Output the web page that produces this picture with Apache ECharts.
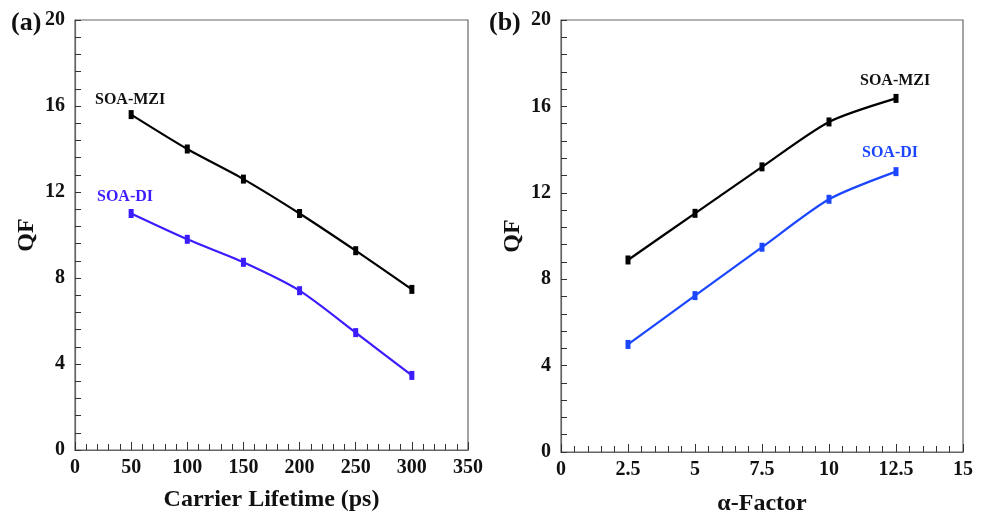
<!DOCTYPE html>
<html><head><meta charset="utf-8">
<script src="https://cdn.jsdelivr.net/npm/echarts@6/dist/echarts.min.js"></script>
<style>html,body{margin:0;padding:0;background:#fff}#c{width:987px;height:516px}</style>
</head><body><div id="c"></div>
<script>
const lifetimeX = [50, 100, 150, 200, 250, 300];
const mziA = [15.6, 14.0, 12.6, 11.0, 9.27, 7.47];
const diA = [11.0, 9.8, 8.73, 7.41, 5.46, 3.47];
const alphaX = [2.5, 5, 7.5, 10, 12.5];
const mziB = [8.89, 11.05, 13.2, 15.28, 16.37];
const diB = [4.98, 7.24, 9.48, 11.7, 12.98];

const font = '"Liberation Serif", "Times New Roman", serif';
const frame = '#666';
const pair = (xs, ys) => xs.map((x, i) => [x, ys[i]]);

function xAx(idx, max, interval, name, gap) {
  return {
    type: 'value', gridIndex: idx, min: 0, max: max, interval: interval,
    name: name, nameLocation: 'middle', nameGap: gap,
    nameTextStyle: {fontFamily: font, fontWeight: 'bold', fontSize: 24, color: '#111'},
    axisLine: {lineStyle: {color: frame, width: 1.2}},
    axisTick: {inside: true, length: 8, lineStyle: {color: '#333'}},
    minorTick: {show: true, splitNumber: 5, length: 6, lineStyle: {color: '#333'}},
    axisLabel: {fontFamily: font, fontWeight: 'bold', fontSize: 20, color: '#111', margin: 8},
    splitLine: {show: false}
  };
}
function yAx(idx) {
  return {
    type: 'value', gridIndex: idx, min: 0, max: 20, interval: 4,
    name: 'QF', nameLocation: 'middle', nameGap: 36,
    nameTextStyle: {fontFamily: font, fontWeight: 'bold', fontSize: 24, color: '#111'},
    axisLine: {lineStyle: {color: frame, width: 1.2}},
    axisTick: {inside: true, length: 6, lineStyle: {color: '#333'}},
    minorTick: {show: true, splitNumber: 5, length: 6, lineStyle: {color: '#333'}},
    axisLabel: {fontFamily: font, fontWeight: 'bold', fontSize: 20, color: '#111', margin: 10},
    splitLine: {show: false}
  };
}
function ser(idx, data, color) {
  return {
    type: 'line', xAxisIndex: idx, yAxisIndex: idx, data: data, smooth: 0.25,
    symbol: 'rect', symbolSize: [5, 9], showSymbol: true,
    lineStyle: {color: color, width: 2.2}, itemStyle: {color: color},
    emphasis: {disabled: true}, z: 3
  };
}
const chart = echarts.init(document.getElementById('c'));
chart.setOption({
  animation: false,
  backgroundColor: '#fff',
  grid: [
    {left: 75, top: 20, width: 393, height: 430, show: true, borderColor: frame, borderWidth: 1.2, outerBoundsMode: 'none', containLabel: false},
    {left: 561, top: 20, width: 402, height: 432, show: true, borderColor: frame, borderWidth: 1.2, outerBoundsMode: 'none', containLabel: false}
  ],
  xAxis: [xAx(0, 350, 50, 'Carrier Lifetime (ps)', 38), xAx(1, 15, 2.5, 'α-Factor', 40)],
  yAxis: [yAx(0), yAx(1)],
  series: [
    ser(0, pair(lifetimeX, mziA), '#000'),
    ser(0, pair(lifetimeX, diA), '#3a1cff'),
    ser(1, pair(alphaX, mziB), '#000'),
    ser(1, pair(alphaX, diB), '#1a46ff')
  ],
  graphic: [
    {type: 'text', left: 11, top: 10, style: {text: '(a)', font: 'bold 26px ' + font, fill: '#111'}},
    {type: 'text', left: 489, top: 10, style: {text: '(b)', font: 'bold 26px ' + font, fill: '#111'}},
    {type: 'text', left: 95, top: 92, style: {text: 'SOA-MZI', font: 'bold 16px ' + font, fill: '#111'}},
    {type: 'text', left: 97, top: 189, style: {text: 'SOA-DI', font: 'bold 16px ' + font, fill: '#3a1cff'}},
    {type: 'text', left: 860, top: 73, style: {text: 'SOA-MZI', font: 'bold 16px ' + font, fill: '#111'}},
    {type: 'text', left: 862, top: 145, style: {text: 'SOA-DI', font: 'bold 16px ' + font, fill: '#1a46ff'}}
  ]
});
</script></body></html>
